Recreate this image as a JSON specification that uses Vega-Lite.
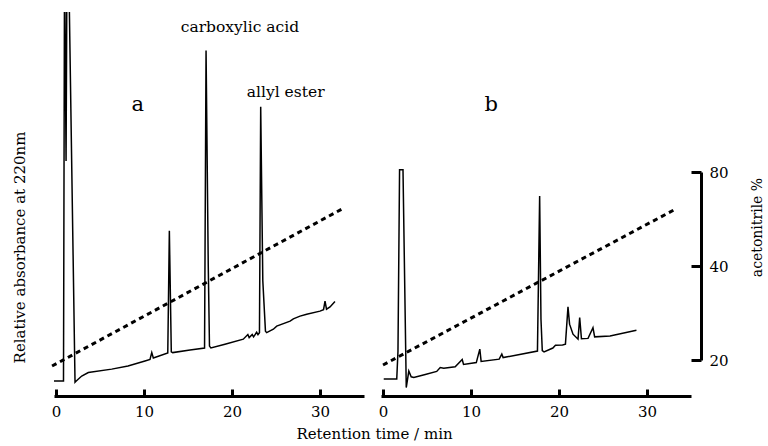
{
  "$schema": "https://vega.github.io/schema/vega-lite/v6.json",
  "padding": {"left": 12, "top": 12, "right": 0, "bottom": 0},
  "bounds": "flush",
  "spacing": 17,
  "config": {"font": "DejaVu Serif", "view": {"stroke": null}, "axis": {"grid": false}},
  "datasets": {
    "a_trace": [
      {"t": -0.49, "v": 3.9}, {"t": 0.85, "v": 3.9}, {"t": 0.97, "v": 115}, {"t": 1.14, "v": 61.2}, {"t": 1.25, "v": 115}, {"t": 1.42, "v": 115},
      {"t": 2.16, "v": 3.6}, {"t": 2.3, "v": 3.9}, {"t": 2.92, "v": 5.2}, {"t": 3.67, "v": 6.1}, {"t": 6.33, "v": 7.0}, {"t": 8.18, "v": 7.8},
      {"t": 10.11, "v": 9.1}, {"t": 10.68, "v": 9.5}, {"t": 10.88, "v": 11.3}, {"t": 11.06, "v": 9.9}, {"t": 12.7, "v": 11.2},
      {"t": 12.88, "v": 43.0}, {"t": 13.1, "v": 11.5}, {"t": 13.26, "v": 11.3}, {"t": 15.23, "v": 12.0}, {"t": 16.88, "v": 12.5},
      {"t": 17.05, "v": 90.0}, {"t": 17.3, "v": 34.0}, {"t": 17.44, "v": 13.0}, {"t": 17.6, "v": 12.5}, {"t": 19.2, "v": 13.5},
      {"t": 21.28, "v": 14.8}, {"t": 21.8, "v": 16.0}, {"t": 21.95, "v": 15.2}, {"t": 22.3, "v": 16.0}, {"t": 22.45, "v": 15.4},
      {"t": 22.8, "v": 16.6}, {"t": 22.95, "v": 16.0}, {"t": 23.12, "v": 16.5}, {"t": 23.26, "v": 75.3}, {"t": 23.5, "v": 30.0},
      {"t": 23.8, "v": 16.9}, {"t": 23.94, "v": 16.5}, {"t": 24.7, "v": 17.4}, {"t": 25.08, "v": 18.2}, {"t": 26.6, "v": 19.5},
      {"t": 26.97, "v": 20.1}, {"t": 27.73, "v": 20.8}, {"t": 28.49, "v": 21.3}, {"t": 30.0, "v": 22.1}, {"t": 30.4, "v": 22.5},
      {"t": 30.57, "v": 24.7}, {"t": 30.74, "v": 22.6}, {"t": 31.14, "v": 23.2}, {"t": 31.7, "v": 24.6}
    ],
    "b_trace": [
      {"t": 0.08, "v": 4.4}, {"t": 1.56, "v": 4.4}, {"t": 1.7, "v": 11.7}, {"t": 1.88, "v": 58.9}, {"t": 2.27, "v": 58.9},
      {"t": 2.64, "v": 2.2}, {"t": 2.93, "v": 6.5}, {"t": 3.2, "v": 5.0}, {"t": 3.5, "v": 4.8}, {"t": 4.8, "v": 5.6},
      {"t": 6.1, "v": 6.4}, {"t": 6.5, "v": 7.4}, {"t": 6.9, "v": 7.2}, {"t": 8.2, "v": 7.6}, {"t": 9.0, "v": 9.5},
      {"t": 9.15, "v": 8.2}, {"t": 10.6, "v": 8.7}, {"t": 11.0, "v": 12.2}, {"t": 11.15, "v": 9.0}, {"t": 13.2, "v": 9.6},
      {"t": 13.5, "v": 10.9}, {"t": 13.65, "v": 10.0}, {"t": 17.55, "v": 11.7}, {"t": 17.8, "v": 52.1}, {"t": 17.95, "v": 20.0},
      {"t": 18.1, "v": 11.8}, {"t": 18.3, "v": 11.5}, {"t": 19.3, "v": 12.5}, {"t": 19.6, "v": 13.2}, {"t": 20.4, "v": 13.3},
      {"t": 20.73, "v": 13.5}, {"t": 21.02, "v": 23.2}, {"t": 21.2, "v": 18.7}, {"t": 21.59, "v": 16.1}, {"t": 22.16, "v": 14.8},
      {"t": 22.35, "v": 20.4}, {"t": 22.55, "v": 14.9}, {"t": 23.3, "v": 15.0}, {"t": 23.86, "v": 17.8}, {"t": 24.05, "v": 15.4},
      {"t": 25.8, "v": 15.6}, {"t": 28.8, "v": 17.1}
    ],
    "a_grad": [{"t": -0.45, "pct": 19.13}, {"t": 32.5, "pct": 60.9}],
    "b_grad": [{"t": 0.0, "pct": 19.28}, {"t": 33.07, "pct": 60.5}],
    "a_labels": [{"t": 20.9, "v": 94.7, "label": "carboxylic acid"}, {"t": 26.1, "v": 77.9, "label": "allyl ester"}],
    "a_letter": [{"t": 9.28, "v": 74.2, "label": "a"}],
    "b_letter": [{"t": 12.3, "v": 74.2, "label": "b"}]
  },
  "hconcat": [
    {
      "width": 310,
      "height": 384,
      "resolve": {"scale": {"y": "independent"}},
      "layer": [
        {
          "data": {"name": "a_trace"},
          "mark": {"type": "line", "color": "black", "strokeWidth": 1.5, "clip": true},
          "encoding": {
            "x": {"field": "t", "type": "quantitative", "scale": {"domain": [-0.23, 35], "nice": false, "zero": false},
              "axis": {"values": [0, 10, 20, 30], "format": "d", "tickSize": -7, "tickWidth": 3, "tickColor": "black", "domainWidth": 3, "domainColor": "black",
                "labelFontSize": 15, "labelColor": "black", "labelPadding": 15, "labelFlush": false,
                "title": "Retention time / min", "titleFontSize": 15, "titleFontWeight": "normal", "titleColor": "black", "titleX": 320, "titlePadding": 7}},
            "y": {"field": "v", "type": "quantitative", "scale": {"domain": [0, 100], "nice": false},
              "axis": {"title": "Relative absorbance at 220nm", "labels": false, "ticks": false, "domain": false, "titlePadding": 27, "titleY": 235,
                "titleFontSize": 15, "titleFontWeight": "normal", "titleColor": "black"}}
          }
        },
        {
          "data": {"name": "a_grad"},
          "mark": {"type": "line", "color": "black", "strokeWidth": 3, "strokeDash": [5, 4]},
          "encoding": {
            "x": {"field": "t", "type": "quantitative", "scale": {"domain": [-0.23, 35], "nice": false, "zero": false}},
            "y": {"field": "pct", "type": "quantitative", "scale": {"type": "log", "domain": [20, 80], "range": [348, 160], "nice": false}, "axis": null}
          }
        },
        {
          "data": {"name": "a_labels"},
          "mark": {"type": "text", "fontSize": 15.5, "baseline": "alphabetic", "align": "center", "color": "black"},
          "encoding": {
            "x": {"field": "t", "type": "quantitative", "scale": {"domain": [-0.23, 35], "nice": false, "zero": false}},
            "y": {"field": "v", "type": "quantitative", "scale": {"domain": [0, 100], "nice": false}, "axis": null},
            "text": {"field": "label"}
          }
        },
        {
          "data": {"name": "a_letter"},
          "mark": {"type": "text", "fontSize": 21, "baseline": "alphabetic", "align": "center", "color": "black"},
          "encoding": {
            "x": {"field": "t", "type": "quantitative", "scale": {"domain": [-0.23, 35], "nice": false, "zero": false}},
            "y": {"field": "v", "type": "quantitative", "scale": {"domain": [0, 100], "nice": false}, "axis": null},
            "text": {"field": "label"}
          }
        }
      ]
    },
    {
      "width": 310,
      "height": 384,
      "resolve": {"scale": {"y": "independent"}},
      "layer": [
        {
          "data": {"name": "b_trace"},
          "mark": {"type": "line", "color": "black", "strokeWidth": 1.5, "clip": true},
          "encoding": {
            "x": {"field": "t", "type": "quantitative", "scale": {"domain": [-0.23, 35], "nice": false, "zero": false},
              "axis": {"values": [0, 10, 20, 30], "format": "d", "tickSize": -7, "tickWidth": 3, "tickColor": "black", "domainWidth": 3, "domainColor": "black",
                "labelFontSize": 15, "labelColor": "black", "labelPadding": 15, "labelFlush": false, "title": null}},
            "y": {"field": "v", "type": "quantitative", "scale": {"domain": [0, 100], "nice": false}, "axis": null}
          }
        },
        {
          "data": {"name": "b_grad"},
          "mark": {"type": "line", "color": "black", "strokeWidth": 3, "strokeDash": [5, 4]},
          "encoding": {
            "x": {"field": "t", "type": "quantitative", "scale": {"domain": [-0.23, 35], "nice": false, "zero": false}},
            "y": {"field": "pct", "type": "quantitative", "scale": {"type": "log", "domain": [20, 80], "range": [348, 160], "nice": false},
              "axis": {"orient": "right", "values": [20, 40, 80], "format": "d", "offset": 10, "tickSize": -10, "tickWidth": 3, "tickColor": "black",
                "domainWidth": 3, "domainColor": "black", "labelFontSize": 15, "labelColor": "black", "labelPadding": 18, "labelBaseline": "middle",
                "title": "acetonitrile %", "titleFontSize": 14, "titleFontWeight": "normal", "titleColor": "black", "titleAngle": 270,
                "titleBaseline": "top", "titleX": 49, "titleY": 215}}
          }
        },
        {
          "data": {"name": "b_letter"},
          "mark": {"type": "text", "fontSize": 21, "baseline": "alphabetic", "align": "center", "color": "black"},
          "encoding": {
            "x": {"field": "t", "type": "quantitative", "scale": {"domain": [-0.23, 35], "nice": false, "zero": false}},
            "y": {"field": "v", "type": "quantitative", "scale": {"domain": [0, 100], "nice": false}, "axis": null},
            "text": {"field": "label"}
          }
        }
      ]
    }
  ]
}
